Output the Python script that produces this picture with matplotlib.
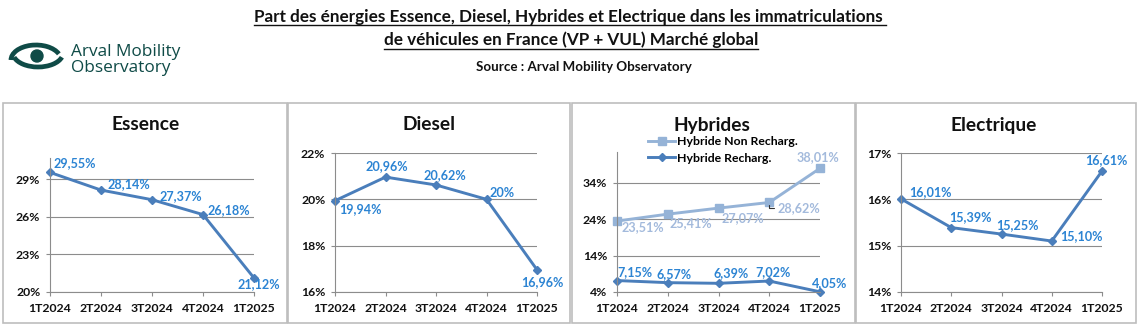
import matplotlib
matplotlib.use("Agg")
import matplotlib.pyplot as plt
from matplotlib.patches import Rectangle, Circle, Arc
from matplotlib.lines import Line2D

plt.rcParams['font.family'] = ['Lato', 'DejaVu Sans']

# Données (parts en %)
trimestres = ['1T2024', '2T2024', '3T2024', '4T2024', '1T2025']
essence = [29.55, 28.14, 27.37, 26.18, 21.12]
diesel = [19.94, 20.96, 20.62, 20.00, 16.96]
hybride_non_recharg = [23.51, 25.41, 27.07, 28.62, 38.01]
hybride_recharg = [7.15, 6.57, 6.39, 7.02, 4.05]
electrique = [16.01, 15.39, 15.25, 15.10, 16.61]

labels_essence = ['29,55%', '28,14%', '27,37%', '26,18%', '21,12%']
labels_diesel = ['19,94%', '20,96%', '20,62%', '20%', '16,96%']
labels_hnr = ['23,51%', '25,41%', '27,07%', '28,62%', '38,01%']
labels_hr = ['7,15%', '6,57%', '6,39%', '7,02%', '4,05%']
labels_elec = ['16,01%', '15,39%', '15,25%', '15,10%', '16,61%']

W, H = 1140, 329
BLEU = '#4A7EBB'
BLEU_CLAIR = '#95B3D7'
TXT_BLEU = '#2C84D3'
TXT_CLAIR = '#A3BADC'
GRIS = '#8C8C8C'
TEAL = '#0F4B47'

fig = plt.figure(figsize=(W / 100, H / 100), dpi=100)

# calque en pixels pour le décor (cadres, titres, logo)
deco = fig.add_axes([0, 0, 1, 1])
deco.set_xlim(0, W)
deco.set_ylim(H, 0)
deco.axis('off')

for x0, x1 in [(3, 287), (288, 570), (572, 855), (856, 1136)]:
    deco.add_patch(Rectangle((x0, 103), x1 - x0, 220, fill=False,
                             ec='#BDBDBD', lw=1.2))

# logo
deco.add_patch(Circle((37, 56), 6, color=TEAL))
deco.add_patch(Arc((36, 60), 50, 30, theta1=180, theta2=345, color=TEAL, lw=3.4))
deco.add_patch(Arc((38, 53), 50, 28, theta1=10, theta2=170, color=TEAL, lw=3.4))
deco.text(71, 52, 'Arval Mobility', fontsize=12.4, family=['Open Sans', 'DejaVu Sans'],
          color=TEAL, va='center', ha='left')
deco.text(71, 68, 'Observatory', fontsize=12.4, family=['Open Sans', 'DejaVu Sans'],
          color=TEAL, va='center', ha='left')

# titre général (souligné)
t1 = deco.text(570, 17, 'Part des énergies Essence, Diesel, Hybrides et Electrique dans les immatriculations ',
               fontsize=12.3, fontweight='bold', ha='center', va='center', color='#111111')
t2 = deco.text(571, 40, 'de véhicules en France (VP + VUL) Marché global',
               fontsize=12.3, fontweight='bold', ha='center', va='center', color='#111111')
deco.text(584, 67, 'Source : Arval Mobility Observatory', fontsize=9.6,
          fontweight='bold', ha='center', va='center', color='#111111')

fig.canvas.draw()
renderer = fig.canvas.get_renderer()
for t, yl in [(t1, 25), (t2, 49)]:
    bb = t.get_window_extent(renderer)
    deco.add_line(Line2D([bb.x0, bb.x1], [yl, yl], color='#111111', lw=1))


def panneau(left, right, top, ylim, yticks, titre, tx):
    ax = fig.add_axes([left / W, 1 - 292 / H, (right - left) / W, (292 - top) / H])
    ax.set_xlim(0, 4)
    ax.set_ylim(*ylim)
    ax.set_yticks(yticks)
    ax.set_yticklabels([f'{v}%' for v in yticks])
    ax.set_xticks(range(5))
    ax.set_xticklabels(trimestres)
    ax.set_facecolor('none')
    for s in ['top', 'right']:
        ax.spines[s].set_visible(False)
    for s in ['left', 'bottom']:
        ax.spines[s].set_color(GRIS)
        ax.spines[s].set_linewidth(0.8)
    ax.grid(axis='y', color=GRIS, lw=0.8)
    ax.set_axisbelow(True)
    ax.tick_params(axis='both', colors=GRIS, length=3, width=0.8, labelsize=8.8,
                   labelcolor='#111111')
    ax.tick_params(axis='y', pad=4)
    ax.tick_params(axis='x', pad=5)
    for lab in ax.get_xticklabels() + ax.get_yticklabels():
        lab.set_fontweight('bold')
    deco.text(tx, 125, titre, fontsize=13.8, fontweight='bold', ha='center',
              va='center', color='#111111')
    return ax


def etiquettes(ax, vals, labs, offs, color):
    for i, (v, l, (dx, dy, ha)) in enumerate(zip(vals, labs, offs)):
        ax.annotate(l, (i, v), xytext=(dx, dy), textcoords='offset pixels',
                    ha=ha, va='center', fontsize=9.1, fontweight='bold',
                    color=color, annotation_clip=False)


# Essence
ax = panneau(50, 254, 158, (20, 30.7), [20, 23, 26, 29], 'Essence', 146)
ax.plot(range(5), essence, color=BLEU, lw=2.1, marker='D', ms=4, clip_on=False)
etiquettes(ax, essence, labels_essence,
           [(3, 9, 'left'), (6, 6, 'left'), (7, 4, 'left'), (4, 5, 'left'), (5, -6, 'center')],
           TXT_BLEU)

# Diesel
ax = panneau(335, 537, 153, (16, 22), [16, 18, 20, 22], 'Diesel', 429)
ax.plot(range(5), diesel, color=BLEU, lw=2.1, marker='D', ms=4, clip_on=False)
etiquettes(ax, diesel, labels_diesel,
           [(4, -8, 'left'), (1, 11, 'center'), (9, 10, 'center'), (3, 6, 'left'), (5, -12, 'center')],
           TXT_BLEU)

# Hybrides
ax = panneau(617, 820, 152, (4, 42.5), [4, 14, 24, 34], 'Hybrides', 712)
ax.plot(range(5), hybride_non_recharg, color=BLEU_CLAIR, lw=2.1, marker='s', ms=6,
        clip_on=False, label='Hybride Non Recharg.')
ax.plot(range(5), hybride_recharg, color=BLEU, lw=2.1, marker='D', ms=4,
        clip_on=False, label='Hybride Recharg.')
etiquettes(ax, hybride_non_recharg, labels_hnr,
           [(4, -6, 'left'), (2, -9, 'left'), (3, -10, 'left'), (8, -6, 'left'), (-2, 11, 'center')],
           TXT_CLAIR)
etiquettes(ax, hybride_recharg, labels_hr,
           [(0, 8, 'left'), (6, 9, 'center'), (13, 10, 'center'), (4, 9, 'center'), (10, 9, 'center')],
           TXT_BLEU)
# renvoi de l'étiquette 28,62%
ax.annotate('', (3, hybride_non_recharg[3]), xytext=(8, -6), textcoords='offset pixels',
            arrowprops=dict(arrowstyle='-', color='#333333', lw=0.8,
                            connectionstyle='angle,angleA=0,angleB=90,rad=0'),
            annotation_clip=False)
ax.legend(loc='upper left', bbox_to_anchor=(642 / W, 1 - 130 / H),
          bbox_transform=fig.transFigure, frameon=False, handlelength=2.2,
          handletextpad=0.2, labelspacing=0.45, borderpad=0,
          prop=dict(size=8.8, weight='bold'))

# Electrique
ax = panneau(901, 1102, 153, (14, 17), [14, 15, 16, 17], 'Electrique', 994)
ax.plot(range(5), electrique, color=BLEU, lw=2.1, marker='D', ms=4, clip_on=False)
etiquettes(ax, electrique, labels_elec,
           [(8, 7, 'left'), (19, 11, 'center'), (16, 9, 'center'), (8, 5, 'left'), (4, 11, 'center')],
           TXT_BLEU)

fig.savefig('out.png', dpi=100)
